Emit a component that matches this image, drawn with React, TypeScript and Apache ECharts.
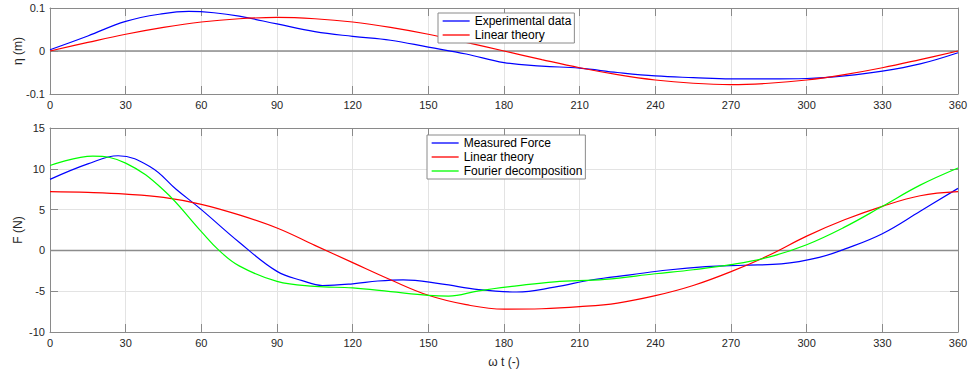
import React, { useEffect, useRef } from "react";
import * as echarts from "echarts";

const X_TICKS = { min: 0, max: 360, interval: 30 };
const ETA_RANGE = { min: -0.1, max: 0.1, interval: 0.1 };
const F_RANGE = { min: -10, max: 15, interval: 5 };

const ETA_EXP_ANGLES = [0, 15, 30, 45, 55, 65, 75, 90, 105, 120, 135, 150, 165, 180, 195, 210, 225, 240, 255, 270, 285, 300, 315, 330, 345, 360];
const ETA_EXPERIMENTAL = [0.003, 0.035, 0.069, 0.087, 0.092, 0.089, 0.081, 0.063, 0.045, 0.034, 0.025, 0.009, -0.007, -0.027, -0.035, -0.040, -0.050, -0.058, -0.062, -0.065, -0.065, -0.064, -0.058, -0.047, -0.030, -0.004];

const ETA_LIN_ANGLES = [0, 15, 30, 45, 60, 75, 90, 105, 120, 135, 150, 165, 180, 195, 210, 225, 240, 255, 270, 285, 300, 315, 330, 345, 360];
const ETA_LINEAR = [0, 0.020, 0.039, 0.055, 0.0675, 0.075, 0.078, 0.075, 0.0675, 0.055, 0.039, 0.020, 0, -0.020, -0.039, -0.055, -0.0675, -0.075, -0.078, -0.075, -0.0675, -0.055, -0.039, -0.020, 0];

const F_MEAS_ANGLES = [0, 15, 27, 40, 50, 60, 75, 90, 100, 108, 120, 130, 140, 155, 170, 185, 200, 215, 230, 245, 260, 275, 290, 305, 315, 330, 345, 360];
const F_MEASURED = [8.7, 10.6, 11.6, 10.2, 7.5, 5.0, 1.0, -2.57, -3.7, -4.3, -4.1, -3.75, -3.6, -4.1, -4.8, -5.1, -4.5, -3.6, -3.0, -2.4, -2.0, -1.82, -1.65, -0.85, 0.15, 2.05, 4.8, 7.6];

const F_LIN_ANGLES = [0, 15, 30, 45, 60, 75, 90, 105, 120, 135, 150, 165, 180, 195, 210, 225, 240, 255, 270, 285, 300, 315, 330, 345, 360];
const F_LINEAR = [7.2, 7.1, 6.9, 6.5, 5.65, 4.35, 2.74, 0.62, -1.5, -3.6, -5.5, -6.65, -7.2, -7.15, -6.9, -6.45, -5.55, -4.3, -2.6, -0.6, 1.75, 3.75, 5.4, 6.7, 7.2];

const F_FOUR_ANGLES = [0, 17, 30, 45, 60, 67, 75, 90, 105, 120, 135, 150, 158, 170, 185, 200, 220, 240, 255, 270, 285, 300, 315, 330, 345, 360];
const F_FOURIER = [10.4, 11.55, 10.7, 7.4, 2.3, 0, -1.9, -3.8, -4.4, -4.6, -5.05, -5.5, -5.6, -4.95, -4.35, -3.85, -3.55, -2.86, -2.37, -1.75, -0.82, 0.7, 2.85, 5.4, 8.0, 10.1];

const FONT = "Liberation Sans, Arial, Helvetica, sans-serif";
const FRAME = "#8a8a8a";
const GRIDC = "#e3e3e3";
const TXT = "#262626";

function pairs(xs: number[], ys: number[]) {
  return xs.map((x, i) => [x, ys[i]]);
}

export default function App() {
  const ref = useRef<HTMLDivElement>(null);
  useEffect(() => {
    if (!ref.current) return;
    const chart = echarts.init(ref.current, null, { renderer: "svg" });

    const xBottom = (gridIndex: number, name?: string) => ({
      type: "value",
      gridIndex,
      position: "bottom",
      ...X_TICKS,
      name,
      nameLocation: "middle",
      nameGap: 24,
      nameMoveOverlap: false,
      nameTextStyle: { fontSize: 12, color: TXT, fontFamily: FONT },
      axisLine: { onZero: false, lineStyle: { color: FRAME, width: 1 } },
      axisTick: { inside: true, length: 8, lineStyle: { color: FRAME } },
      axisLabel: { fontSize: 11, color: TXT, fontFamily: FONT, margin: 5 },
      splitLine: { show: true, lineStyle: { color: GRIDC, width: 1 } },
    });
    const xTop = (gridIndex: number) => ({
      type: "value",
      gridIndex,
      position: "top",
      ...X_TICKS,
      axisLine: { onZero: false, lineStyle: { color: FRAME, width: 1 } },
      axisTick: { inside: true, length: 8, lineStyle: { color: FRAME } },
      axisLabel: { show: false },
      splitLine: { show: false },
    });
    const yLeft = (gridIndex: number, range: any, name: string) => ({
      type: "value",
      gridIndex,
      position: "left",
      ...range,
      name,
      nameLocation: "middle",
      nameGap: 26,
      nameMoveOverlap: false,
      nameTextStyle: { fontSize: 12, color: TXT, fontFamily: FONT },
      axisLine: { show: true, onZero: false, lineStyle: { color: FRAME, width: 1 } },
      axisTick: { show: true, inside: true, length: 8, lineStyle: { color: FRAME } },
      axisLabel: { fontSize: 11, color: TXT, fontFamily: FONT, margin: 5 },
      splitLine: { show: true, lineStyle: { color: GRIDC, width: 1 } },
    });
    const yRight = (gridIndex: number, range: any) => ({
      type: "value",
      gridIndex,
      position: "right",
      ...range,
      axisLine: { show: true, onZero: false, lineStyle: { color: FRAME, width: 1 } },
      axisTick: { show: true, inside: true, length: 8, lineStyle: { color: FRAME } },
      axisLabel: { show: false },
      splitLine: { show: false },
    });

    const line = (name: string, color: string, xi: number, yi: number, data: number[][]) => ({
      name,
      type: "line",
      xAxisIndex: xi,
      yAxisIndex: yi,
      data,
      smooth: 0.4,
      symbol: "none",
      lineStyle: { color, width: 1.2 },
      itemStyle: { color },
      z: 3,
    });
    const zero = (xi: number, yi: number) => ({
      type: "line",
      xAxisIndex: xi,
      yAxisIndex: yi,
      data: [[0, 0], [360, 0]],
      symbol: "none",
      silent: true,
      lineStyle: { color: "#8c8c8c", width: 1.5 },
      z: 2,
    });

    const legendBase = {
      orient: "vertical",
      itemWidth: 27,
      itemHeight: 14,
      itemGap: 2,
      padding: [2, 3, 2, 4],
      backgroundColor: "#ffffff",
      borderColor: FRAME,
      borderWidth: 1,
      borderRadius: 0,
      selectedMode: false,
      itemStyle: { color: "rgba(0,0,0,0)", borderWidth: 0, borderColor: "rgba(0,0,0,0)" },
      lineStyle: { width: 1.3 },
      textStyle: { fontSize: 12, color: "#000", fontFamily: FONT },
    };

    chart.setOption({
      animation: false,
      backgroundColor: "#ffffff",
      grid: [
        { left: 50, right: 14, top: 8, height: 86 },
        { left: 50, right: 14, top: 128, height: 204 },
      ],
      xAxis: [xBottom(0), xTop(0), xBottom(1, "ω t (-)"), xTop(1)],
      yAxis: [
        yLeft(0, ETA_RANGE, "η (m)"),
        yRight(0, ETA_RANGE),
        yLeft(1, F_RANGE, "F (N)"),
        yRight(1, F_RANGE),
      ],
      legend: [
        { ...legendBase, left: 438, top: 13, data: ["Experimental data", "Linear theory"] },
        { ...legendBase, left: 427, top: 135, data: ["Measured Force", "Linear theory", "Fourier decomposition"] },
      ],
      series: [
        zero(0, 0),
        line("Experimental data", "#0000ff", 0, 0, pairs(ETA_EXP_ANGLES, ETA_EXPERIMENTAL)),
        line("Linear theory", "#ff0000", 0, 0, pairs(ETA_LIN_ANGLES, ETA_LINEAR)),
        zero(2, 2),
        line("Measured Force", "#0000ff", 2, 2, pairs(F_MEAS_ANGLES, F_MEASURED)),
        line("Linear theory", "#ff0000", 2, 2, pairs(F_LIN_ANGLES, F_LINEAR)),
        line("Fourier decomposition", "#00ff00", 2, 2, pairs(F_FOUR_ANGLES, F_FOURIER)),
      ],
    });
    return () => chart.dispose();
  }, []);
  return (
    <div
      ref={ref}
      style={{ position: "fixed", left: 0, top: 0, width: 972, height: 376, background: "#fff" }}
    />
  );
}
